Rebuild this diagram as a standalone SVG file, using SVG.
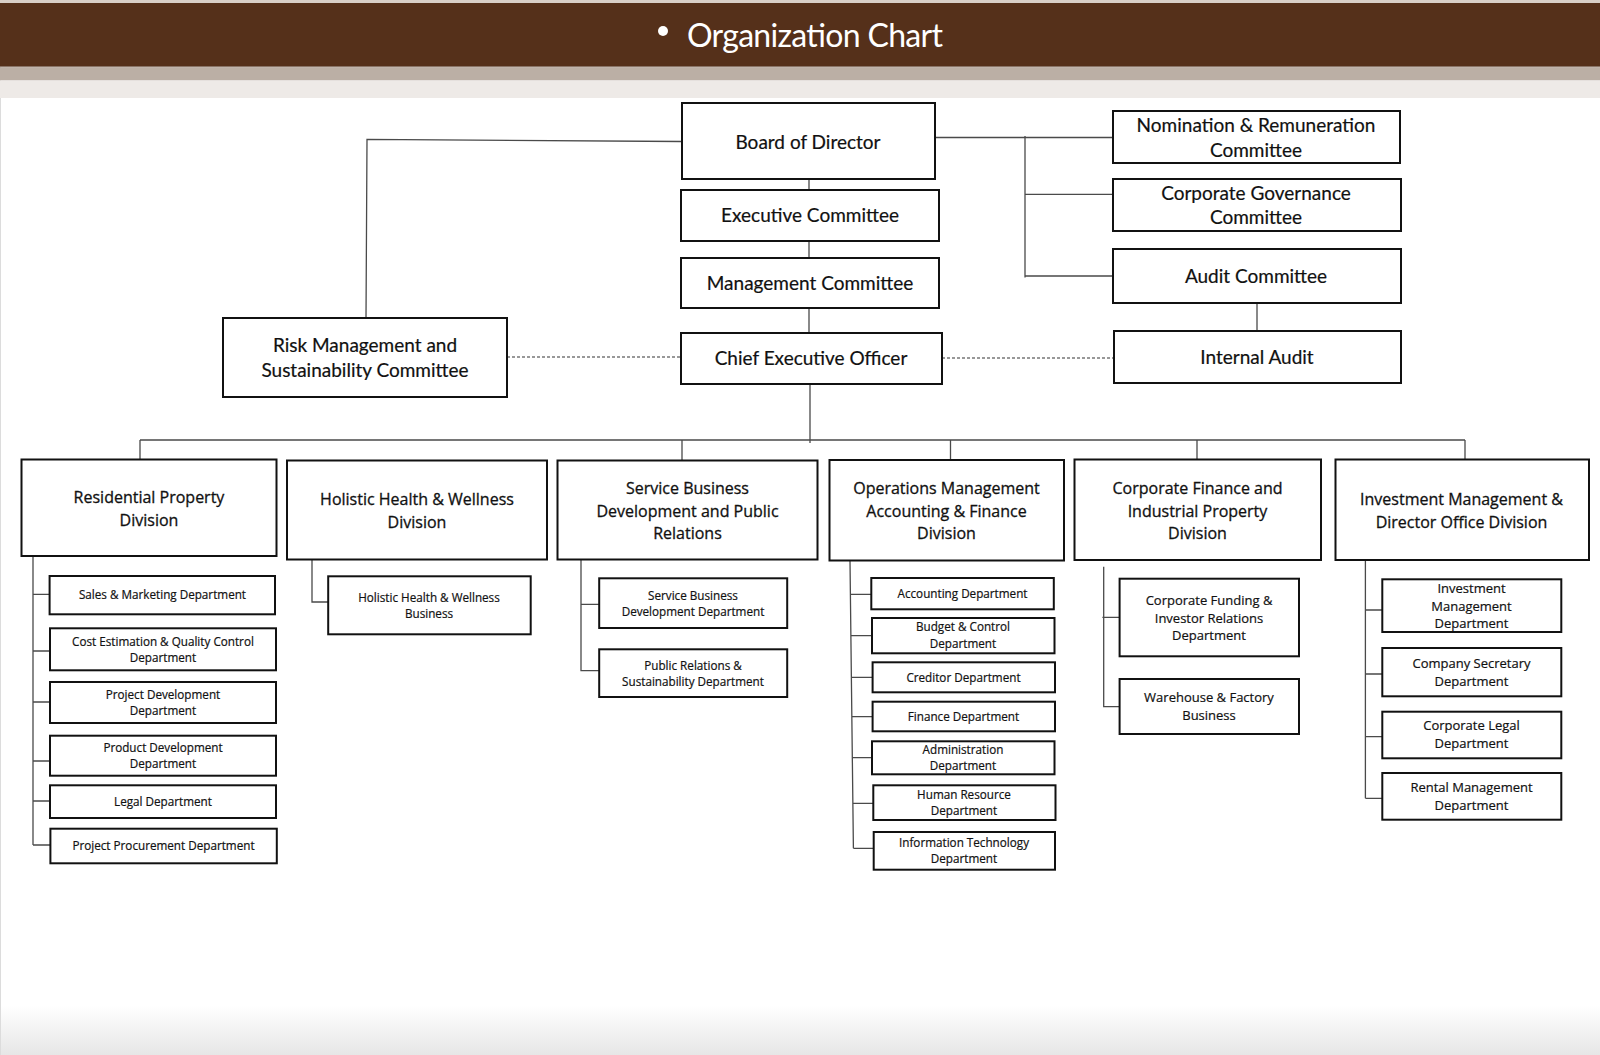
<svg xmlns="http://www.w3.org/2000/svg" width="1600" height="1055" viewBox="0 0 1600 1055">
<defs>
<linearGradient id="fade" x1="0" y1="0" x2="0" y2="1">
<stop offset="0" stop-color="#ffffff"/>
<stop offset="1" stop-color="#e6e6e6"/>
</linearGradient>
<style>
.box{fill:#fff;stroke:#111;stroke-width:2}
.top{font-family:Lato,"Liberation Sans",sans-serif;font-size:19px;fill:#111;text-anchor:middle;stroke:#111;stroke-width:0.2}
.div{font-family:"Open Sans","Noto Sans",sans-serif;font-size:16px;fill:#111;text-anchor:middle;stroke:#111;stroke-width:0.3}
.sub{font-family:"Open Sans","Noto Sans",sans-serif;font-size:11.7px;fill:#111;text-anchor:middle;stroke:#111;stroke-width:0.2}
.sub2{font-family:"Open Sans","Noto Sans",sans-serif;font-size:13px;fill:#111;text-anchor:middle;stroke:#111;stroke-width:0.2}
.ln{fill:none;stroke:#4a4a4a;stroke-width:1.3}
.dash{fill:none;stroke:#333;stroke-width:1.2;stroke-dasharray:3 2}
</style>
</defs>
<rect x="0" y="0" width="1600" height="1055" fill="#fff"/>
<rect x="0" y="1005" width="1600" height="50" fill="url(#fade)"/>
<line x1="0.5" y1="0" x2="0.5" y2="1055" stroke="#dcdcdc" stroke-width="1"/>
<g id="header">
<rect x="0" y="0" width="1600" height="3" fill="#d9cfc7"/>
<rect x="0" y="3" width="1600" height="63" fill="#55301a"/>
<rect x="0" y="66" width="1600" height="1.5" fill="#8a7466"/>
<rect x="0" y="67.5" width="1600" height="13" fill="#bbafa5"/>
<rect x="0" y="80.5" width="1600" height="17.5" fill="#eeeae7"/>
<circle cx="663" cy="31" r="5" fill="#fff"/>
<text x="687" y="47" font-family="Lato,'Noto Sans',sans-serif" font-size="32" fill="#fff" textLength="256" lengthAdjust="spacing">Organization Chart</text>
</g>
<g id="connectors">
<path class="ln" d="M681,141.5 L367,139.3 L366,318"/>
<path class="ln" d="M809,179 V190 M809,241 V258 M809,308 V333 M810,384 V443"/>
<path class="ln" d="M935,137.5 H1113 M1025,136 V277.5 M1025,194.3 H1113 M1025,276 H1113"/>
<path class="ln" d="M1257,303 V331"/>
<path class="dash" d="M507,357 H681"/>
<path class="dash" d="M942,358 H1114"/>
<path class="ln" d="M140,440 H1465 M140,440 V459 M682,440 V460 M950.5,440 V460 M1197,440 V459 M1465,440 V459"/>
<path class="ln" d="M33,556 V845 M33,594.3 H50 M33,651 H50 M33,702 H50 M33,761 H50 M33,801 H50 M33,845 H50"/>
<path class="ln" d="M312,559 V602 H328"/>
<path class="ln" d="M581,560 V670.7 H599 M581,604.3 H599"/>
<path class="ln" d="M850,561 L853.4,848.3 M850.4,594.3 H871 M850.9,635.7 H872 M851.4,677.3 H872.6 M851.9,716.7 H872.6 M852.3,757.7 H872 M852.9,803.3 H873.3 M853.4,848.3 H873.7"/>
<path class="ln" d="M1103.7,566.7 V707.3 M1102.4,617.3 H1119.6 M1103.7,706.7 H1119.6"/>
<path class="ln" d="M1365.4,559.3 V798.3 M1365.4,610 H1382.3 M1365.4,674 H1382.3 M1365.4,736.7 H1382.3 M1365.4,798.3 H1382.3"/>
</g>
<g id="board"><rect class="box" x="682" y="103" width="253" height="76"/><text class="top" x="808" y="149">Board of Director</text></g>
<g id="exec"><rect class="box" x="681" y="190" width="258" height="51"/><text class="top" x="810" y="222">Executive Committee</text></g>
<g id="mgmt"><rect class="box" x="681" y="258" width="258" height="50"/><text class="top" x="810" y="290">Management Committee</text></g>
<g id="ceo"><rect class="box" x="681" y="333" width="261" height="51"/><text class="top" x="811" y="365">Chief Executive Officer</text></g>
<g id="risk"><rect class="box" x="223" y="318" width="284" height="79"/><text class="top" x="365" y="352">Risk Management and</text><text class="top" x="365" y="377">Sustainability Committee</text></g>
<g id="nomination"><rect class="box" x="1113" y="111" width="287" height="52"/><text class="top" x="1256" y="132">Nomination &amp; Remuneration</text><text class="top" x="1256" y="157">Committee</text></g>
<g id="governance"><rect class="box" x="1113" y="179" width="288" height="52"/><text class="top" x="1256" y="200">Corporate Governance</text><text class="top" x="1256" y="224">Committee</text></g>
<g id="audit"><rect class="box" x="1113" y="249" width="288" height="54"/><text class="top" x="1256" y="283">Audit Committee</text></g>
<g id="internal-audit"><rect class="box" x="1114" y="331" width="287" height="52"/><text class="top" x="1257" y="364">Internal Audit</text></g>

<g id="div-residential"><rect class="box" x="21.5" y="459.5" width="255" height="96.5"/><text class="div" x="149" y="503">Residential Property</text><text class="div" x="149" y="525.5">Division</text></g>
<g id="div-holistic"><rect class="box" x="287" y="460.5" width="260" height="99"/><text class="div" x="417" y="505">Holistic Health &amp; Wellness</text><text class="div" x="417" y="527.5">Division</text></g>
<g id="div-service"><rect class="box" x="557.5" y="460.5" width="260" height="99"/><text class="div" x="687.5" y="494">Service Business</text><text class="div" x="687.5" y="516.5">Development and Public</text><text class="div" x="687.5" y="538.5">Relations</text></g>
<g id="div-operations"><rect class="box" x="829.5" y="460" width="234.5" height="100.5"/><text class="div" x="946.5" y="494">Operations Management</text><text class="div" x="946.5" y="516.5">Accounting &amp; Finance</text><text class="div" x="946.5" y="538.5">Division</text></g>
<g id="div-corpfin"><rect class="box" x="1074.5" y="459.5" width="246.5" height="100.5"/><text class="div" x="1197.5" y="494">Corporate Finance and</text><text class="div" x="1197.5" y="516.5">Industrial Property</text><text class="div" x="1197.5" y="538.5">Division</text></g>
<g id="div-investment"><rect class="box" x="1335.5" y="459.5" width="253.5" height="100.5"/><text class="div" x="1461.5" y="505">Investment Management &amp;</text><text class="div" x="1461.5" y="527.5">Director Office Division</text></g>

<g id="res-sales"><rect class="box" x="49.6" y="576" width="225.4" height="38.3"/><text class="sub" x="162.5" y="599">Sales &amp; Marketing Department</text></g>
<g id="res-cost"><rect class="box" x="50" y="628.3" width="226" height="42"/><text class="sub" x="163" y="645.5">Cost Estimation &amp; Quality Control</text><text class="sub" x="163" y="662">Department</text></g>
<g id="res-project"><rect class="box" x="50" y="682" width="226" height="41"/><text class="sub" x="163" y="699">Project Development</text><text class="sub" x="163" y="715">Department</text></g>
<g id="res-product"><rect class="box" x="50" y="735.7" width="226" height="40"/><text class="sub" x="163" y="752">Product Development</text><text class="sub" x="163" y="768.3">Department</text></g>
<g id="res-legal"><rect class="box" x="50" y="785.3" width="226" height="32.7"/><text class="sub" x="163" y="806">Legal Department</text></g>
<g id="res-procurement"><rect class="box" x="50.4" y="828.7" width="226.4" height="34.6"/><text class="sub" x="163.5" y="850">Project Procurement Department</text></g>

<g id="hol-business"><rect class="box" x="328.2" y="576.3" width="202.5" height="58"/><text class="sub" x="429" y="602">Holistic Health &amp; Wellness</text><text class="sub" x="429" y="618.3">Business</text></g>

<g id="svc-sbd"><rect class="box" x="599.2" y="578.3" width="188" height="49.7"/><text class="sub" x="693" y="599.5">Service Business</text><text class="sub" x="693" y="616">Development Department</text></g>
<g id="svc-pr"><rect class="box" x="599.2" y="649.3" width="188" height="47.7"/><text class="sub" x="693" y="669.5">Public Relations &amp;</text><text class="sub" x="693" y="686">Sustainability Department</text></g>

<g id="ops-accounting"><rect class="box" x="871.3" y="578" width="182.5" height="31.3"/><text class="sub" x="962.5" y="598">Accounting Department</text></g>
<g id="ops-budget"><rect class="box" x="872" y="618" width="182.5" height="35.3"/><text class="sub" x="963" y="631">Budget &amp; Control</text><text class="sub" x="963" y="647.5">Department</text></g>
<g id="ops-creditor"><rect class="box" x="872.6" y="662.3" width="182.4" height="30"/><text class="sub" x="963.5" y="681.5">Creditor Department</text></g>
<g id="ops-finance"><rect class="box" x="872.6" y="701.7" width="182.4" height="29.6"/><text class="sub" x="963.5" y="721">Finance Department</text></g>
<g id="ops-admin"><rect class="box" x="872" y="741.3" width="182.5" height="33"/><text class="sub" x="963" y="754">Administration</text><text class="sub" x="963" y="770">Department</text></g>
<g id="ops-hr"><rect class="box" x="873.3" y="785.3" width="182.2" height="34.7"/><text class="sub" x="964" y="798.5">Human Resource</text><text class="sub" x="964" y="814.5">Department</text></g>
<g id="ops-it"><rect class="box" x="873.7" y="832" width="181.3" height="37.7"/><text class="sub" x="964" y="846.5">Information Technology</text><text class="sub" x="964" y="862.5">Department</text></g>

<g id="cf-funding"><rect class="box" x="1119.6" y="578.7" width="179.4" height="77.6"/><text class="sub2" x="1209" y="605">Corporate Funding &amp;</text><text class="sub2" x="1209" y="622.5">Investor Relations</text><text class="sub2" x="1209" y="640">Department</text></g>
<g id="cf-warehouse"><rect class="box" x="1119.6" y="679" width="179.4" height="55"/><text class="sub2" x="1209" y="702">Warehouse &amp; Factory</text><text class="sub2" x="1209" y="720">Business</text></g>

<g id="inv-mgmt"><rect class="box" x="1382.3" y="579.3" width="179" height="52.7"/><text class="sub2" x="1471.5" y="593">Investment</text><text class="sub2" x="1471.5" y="610.5">Management</text><text class="sub2" x="1471.5" y="628">Department</text></g>
<g id="inv-secretary"><rect class="box" x="1382.3" y="648" width="179" height="48.3"/><text class="sub2" x="1471.5" y="667.5">Company Secretary</text><text class="sub2" x="1471.5" y="685.5">Department</text></g>
<g id="inv-legal"><rect class="box" x="1382.3" y="711.7" width="179" height="46.6"/><text class="sub2" x="1471.5" y="730">Corporate Legal</text><text class="sub2" x="1471.5" y="748">Department</text></g>
<g id="inv-rental"><rect class="box" x="1382.3" y="773" width="179" height="46.7"/><text class="sub2" x="1471.5" y="791.5">Rental Management</text><text class="sub2" x="1471.5" y="809.5">Department</text></g>
</svg>
